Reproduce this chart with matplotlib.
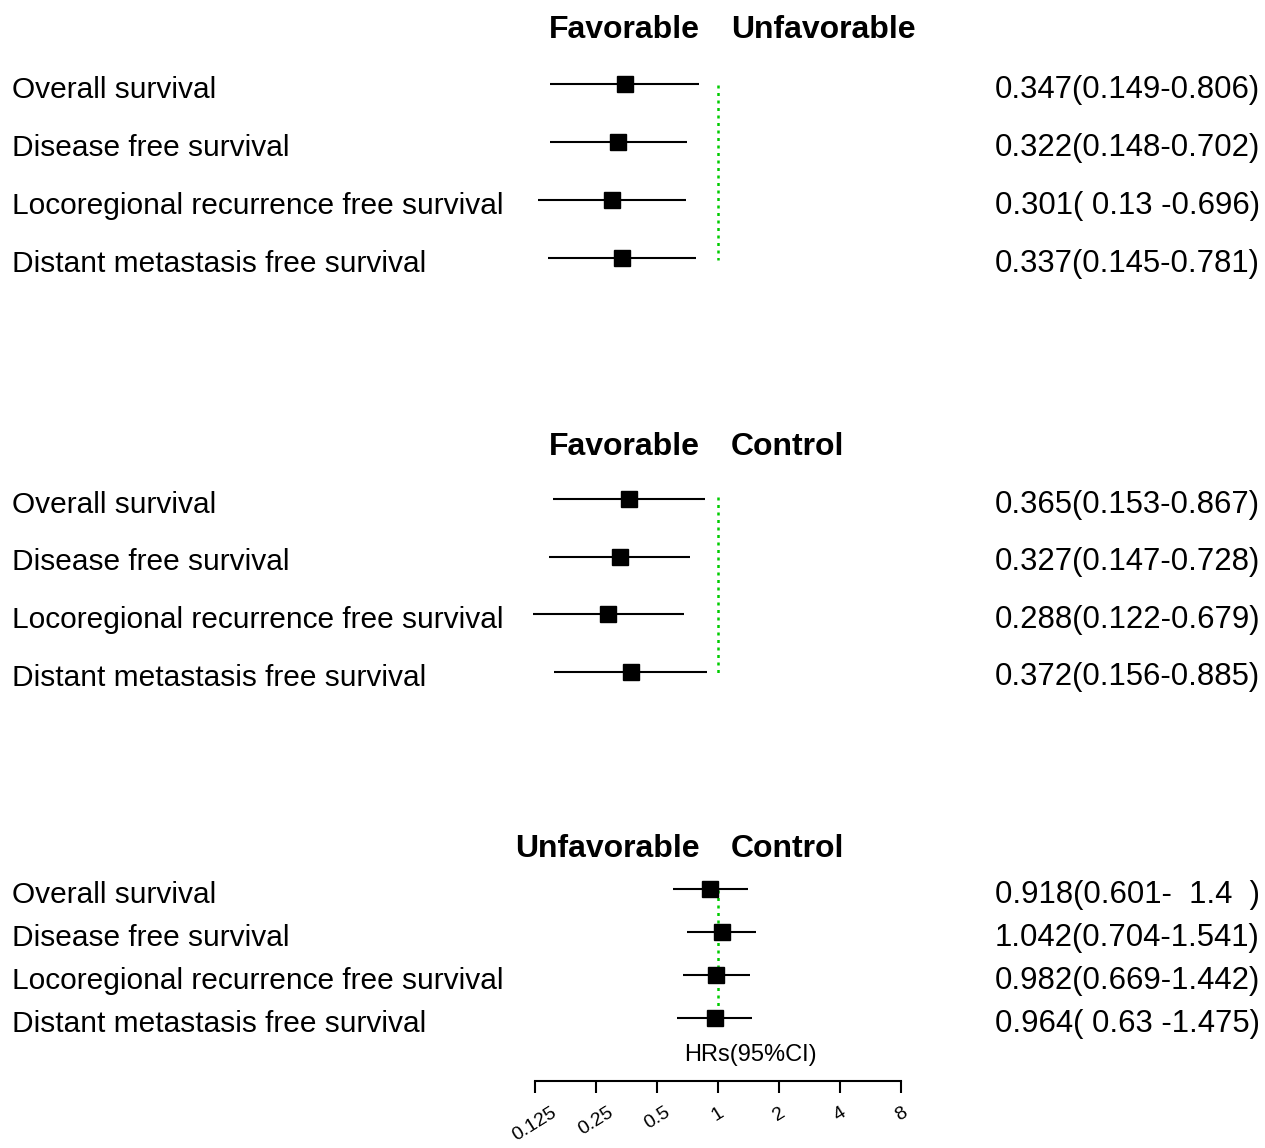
import numpy as np
import matplotlib
matplotlib.use("Agg")
import matplotlib.pyplot as plt

plt.rcParams['font.family'] = ['Liberation Sans', 'DejaVu Sans']

outcomes = ["Overall survival", "Disease free survival",
            "Locoregional recurrence free survival",
            "Distant metastasis free survival"]

# section 1: Favorable vs Unfavorable
hr1 = [0.347, 0.322, 0.301, 0.337]
lo1 = [0.149, 0.148, 0.130, 0.145]
hi1 = [0.806, 0.702, 0.696, 0.781]
txt1 = ["0.347(0.149-0.806)", "0.322(0.148-0.702)",
        "0.301( 0.13 -0.696)", "0.337(0.145-0.781)"]

# section 2: Favorable vs Control
hr2 = [0.365, 0.327, 0.288, 0.372]
lo2 = [0.153, 0.147, 0.122, 0.156]
hi2 = [0.867, 0.728, 0.679, 0.885]
txt2 = ["0.365(0.153-0.867)", "0.327(0.147-0.728)",
        "0.288(0.122-0.679)", "0.372(0.156-0.885)"]

# section 3: Unfavorable vs Control
hr3 = [0.918, 1.042, 0.982, 0.964]
lo3 = [0.601, 0.704, 0.669, 0.630]
hi3 = [1.400, 1.541, 1.442, 1.475]
txt3 = ["0.918(0.601-  1.4  )", "1.042(0.704-1.541)",
        "0.982(0.669-1.442)", "0.964( 0.63 -1.475)"]

headers = [("Favorable", "Unfavorable"), ("Favorable", "Control"),
           ("Unfavorable", "Control")]
xticks = [0.125, 0.25, 0.5, 1, 2, 4, 8]
xtick_labels = ["0.125", "0.25", "0.5", "1", "2", "4", "8"]

W, H = 1265, 1148
fig = plt.figure(figsize=(W / 100, H / 100), dpi=100)

# pixel layout of the log2 scale: x=1 at 718 px, 61 px per doubling
x_one, px_per = 718, 61
ax = fig.add_axes([0, 0, 1, 1])
ax.set_xscale('log', base=2)
ax.set_xlim(2 ** ((0 - x_one) / px_per), 2 ** ((W - x_one) / px_per))
ax.set_ylim(H, 0)
ax.axis('off')

# (header y, first row y, row step, ref line top, ref line bottom)
layout = [(28, 84, 58, 85, 260),
          (445, 499, 57.5, 497, 675),
          (847, 889, 43, 890, 1020)]

data = [(hr1, lo1, hi1, txt1), (hr2, lo2, hi2, txt2), (hr3, lo3, hi3, txt3)]

for (hy, y0, step, ytop, ybot), (left_h, right_h), (hr, lo, hi, txt) in zip(layout, headers, data):
    ax.text(700 / W, 1 - (hy + 2) / H, left_h, transform=ax.transAxes, ha='right', va='center',
            fontsize=23, fontweight='bold', color='black')
    ax.text(731 / W, 1 - (hy + 2) / H, right_h, transform=ax.transAxes, ha='left', va='center',
            fontsize=23, fontweight='bold', color='black')
    ax.plot([1, 1], [ytop, ybot], color='#00cc00', linestyle=(0, (1.2, 1.8)), lw=1.8)
    for i in range(len(hr)):
        y = y0 + step * i
        ax.plot([lo[i], hi[i]], [y, y], color='black', lw=1.5, solid_capstyle='butt')
        ax.plot(hr[i], y, marker='s', color='black', markersize=11.5, linestyle='none')
        ax.text(12 / W, 1 - (y + 6) / H, outcomes[i], transform=ax.transAxes,
                ha='left', va='center', fontsize=21.5, color='black')
        ax.text(995 / W, 1 - (y + 6) / H, txt[i], transform=ax.transAxes,
                ha='left', va='center', fontsize=22.4, color='black')

ax.text(750 / W, 1 - 1055 / H, "HRs(95%CI)", transform=ax.transAxes,
        ha='center', va='center', fontsize=17, color='black')

# bottom axis
axb = fig.add_axes([535 / W, 1 - 1081 / H, (901 - 535) / W, 0.001])
axb.set_xscale('log', base=2)
axb.set_xlim(0.125, 8)
axb.set_xticks(xticks)
axb.set_xticklabels(xtick_labels, rotation=32, ha='center', fontsize=14)
axb.minorticks_off()
axb.tick_params(axis='x', direction='out', length=8.5, width=1.5, pad=8)
axb.set_yticks([])
for s in ['top', 'left', 'right']:
    axb.spines[s].set_visible(False)
axb.spines['bottom'].set_linewidth(1.5)
axb.patch.set_alpha(0)

fig.savefig("out.png", dpi=100)
